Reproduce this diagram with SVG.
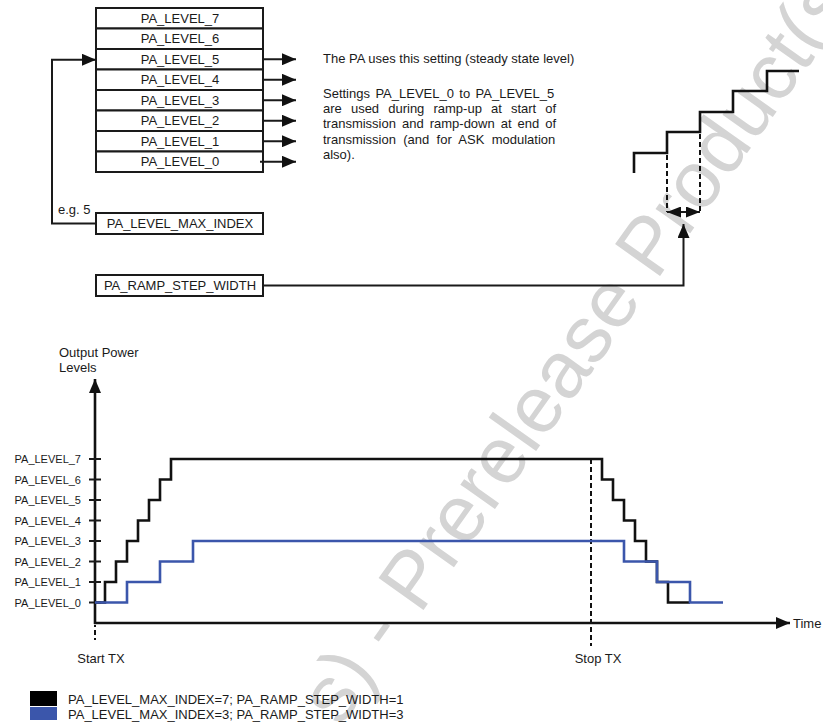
<svg xmlns="http://www.w3.org/2000/svg" width="823" height="726" viewBox="0 0 823 726">
<style>
  text { font-family: "Liberation Sans", Arial, sans-serif; fill: #1a1a1a; }
  .lbl { font-size: 13px; }
  .ax { font-size: 11px; text-anchor: end; }
  .mid { text-anchor: middle; }
  .box { fill: #ffffff; stroke: #1a1a1a; stroke-width: 2; }
  .ln { fill: none; stroke: #1a1a1a; stroke-width: 2; }
  .thick { fill: none; stroke: #111111; stroke-width: 2.6; }
  .dash { fill: none; stroke: #111111; stroke-width: 2; stroke-dasharray: 5 3; }
  .blue { fill: none; stroke: #3b56ab; stroke-width: 2.6; }
  .wm { font-size: 80px; fill: #d4d4d4; }
</style>
<defs>
  <marker id="ah" markerUnits="userSpaceOnUse" markerWidth="14" markerHeight="12" refX="14" refY="6" orient="auto">
    <path d="M0,0 L14,6 L0,12 z" fill="#111111"/>
  </marker>
  <marker id="ahs" markerUnits="userSpaceOnUse" markerWidth="14" markerHeight="11" refX="14" refY="5.5" orient="auto-start-reverse">
    <path d="M0,0 L14,5.5 L0,11 z" fill="#111111"/>
  </marker>
</defs>
<rect width="823" height="726" fill="#ffffff"/>

<g id="watermark">
  <text class="wm" transform="translate(420,615) rotate(-54.7)" x="-138" y="0">s) - Prerelease Product(s)</text>
</g>

<g id="pa-level-table">
  <g id="pa_level_7"><rect class="box" x="96" y="8" width="167" height="20.5"/><text class="lbl mid" x="180" y="22.8">PA_LEVEL_7</text></g>
  <g id="pa_level_6"><rect class="box" x="96" y="28.5" width="167" height="20.5"/><text class="lbl mid" x="180" y="43.3">PA_LEVEL_6</text></g>
  <g id="pa_level_5"><rect class="box" x="96" y="49" width="167" height="20.5"/><text class="lbl mid" x="180" y="63.8">PA_LEVEL_5</text></g>
  <g id="pa_level_4"><rect class="box" x="96" y="69.5" width="167" height="20.5"/><text class="lbl mid" x="180" y="84.3">PA_LEVEL_4</text></g>
  <g id="pa_level_3"><rect class="box" x="96" y="90" width="167" height="20.5"/><text class="lbl mid" x="180" y="104.8">PA_LEVEL_3</text></g>
  <g id="pa_level_2"><rect class="box" x="96" y="110.5" width="167" height="20.5"/><text class="lbl mid" x="180" y="125.3">PA_LEVEL_2</text></g>
  <g id="pa_level_1"><rect class="box" x="96" y="131" width="167" height="20.5"/><text class="lbl mid" x="180" y="145.8">PA_LEVEL_1</text></g>
  <g id="pa_level_0"><rect class="box" x="96" y="151.5" width="167" height="20.5"/><text class="lbl mid" x="180" y="166.3">PA_LEVEL_0</text></g>
</g>

<g id="pa_level_max_index">
  <rect class="box" x="96" y="213" width="167" height="21"/>
  <text class="lbl mid" x="180" y="228.3">PA_LEVEL_MAX_INDEX</text>
</g>

<g id="pa_ramp_step_width">
  <rect class="box" x="96" y="275" width="167" height="21"/>
  <text class="lbl mid" x="180" y="290.3">PA_RAMP_STEP_WIDTH</text>
</g>

<g id="notes">
  <text class="lbl" x="323" y="63">The PA uses this setting (steady state level)</text>
  <text class="lbl" x="323" y="98" word-spacing="1.8">Settings PA_LEVEL_0 to PA_LEVEL_5</text>
  <text class="lbl" x="323" y="113.2" word-spacing="5.5">are used during ramp-up at start of</text>
  <text class="lbl" x="323" y="128.4" word-spacing="2.4">transmission and ramp-down at end of</text>
  <text class="lbl" x="323" y="143.6" word-spacing="3.7">transmission (and for ASK modulation</text>
  <text class="lbl" x="323" y="158.8">also).</text>
  <text class="lbl" x="58" y="214">e.g. 5</text>
</g>

<g id="ramp-detail">
  <path class="thick" d="M634,173 V153 H667 V132 H700 V112 H733 V91 H767 V71 H799"/>
  <line class="dash" x1="667" y1="155" x2="667" y2="212"/>
  <line class="dash" x1="700" y1="134" x2="700" y2="212"/>
</g>

<g id="connectors">
  <line class="ln" x1="263" y1="59.25" x2="296" y2="59.25" marker-end="url(#ah)"/>
  <line class="ln" x1="263" y1="79.75" x2="296" y2="79.75" marker-end="url(#ah)"/>
  <line class="ln" x1="263" y1="100.25" x2="296" y2="100.25" marker-end="url(#ah)"/>
  <line class="ln" x1="263" y1="120.75" x2="296" y2="120.75" marker-end="url(#ah)"/>
  <line class="ln" x1="263" y1="141.25" x2="296" y2="141.25" marker-end="url(#ah)"/>
  <line class="ln" x1="260" y1="161.75" x2="296" y2="161.75" marker-end="url(#ah)"/>
  <path class="ln" d="M96,223.5 H52 V59.75 H96" marker-end="url(#ah)"/>
  <path class="ln" d="M263,285.5 H683.5 V224" marker-end="url(#ah)"/>
  <line class="ln" x1="667" y1="212" x2="700" y2="212" stroke-width="2.4" marker-start="url(#ahs)" marker-end="url(#ahs)"/>
</g>

<g id="chart">
  <g id="axes">
    <line class="thick" x1="95" y1="624" x2="95" y2="379" marker-end="url(#ah)"/>
    <line class="thick" x1="94" y1="623" x2="790" y2="623" marker-end="url(#ah)"/>
    <path class="ln" d="M89,459 H101 M89,479.5 H101 M89,500 H101 M89,520.5 H101 M89,541 H101 M89,561.5 H101 M89,582 H101 M89,602.5 H101"/>
    <line class="dash" x1="95" y1="625" x2="95" y2="640" stroke-dasharray="5 5" stroke-dashoffset="-5"/>
    <line class="dash" x1="591" y1="459" x2="591" y2="646"/>
  </g>
  <g id="axis-labels">
    <text class="lbl" x="59" y="357">Output Power</text>
    <text class="lbl" x="59" y="372">Levels</text>
    <text class="ax" x="81" y="463">PA_LEVEL_7</text>
    <text class="ax" x="81" y="483.5">PA_LEVEL_6</text>
    <text class="ax" x="81" y="504">PA_LEVEL_5</text>
    <text class="ax" x="81" y="524.5">PA_LEVEL_4</text>
    <text class="ax" x="81" y="545">PA_LEVEL_3</text>
    <text class="ax" x="81" y="565.5">PA_LEVEL_2</text>
    <text class="ax" x="81" y="586">PA_LEVEL_1</text>
    <text class="ax" x="81" y="606.5">PA_LEVEL_0</text>
    <text class="lbl" x="793" y="628">Time</text>
    <text class="lbl mid" x="101" y="663">Start TX</text>
    <text class="lbl mid" x="598" y="663">Stop TX</text>
  </g>
  <g id="curve-black">
    <path class="thick" d="M95,602.5 H105 V582 H116 V561.5 H127 V541 H138 V520.5 H149 V500 H160 V479.5 H171 V459 H602 V479.5 H613 V500 H624 V520.5 H635 V541 H646 V561.5 H657 V582 H668 V602.5 H690"/>
  </g>
  <g id="curve-blue">
    <path class="blue" d="M95,602.5 H127 V582 H160 V561.5 H193 V541 H624 V561.5 H657 V582 H690 V602.5 H723"/>
  </g>
</g>

<g id="legend">
  <rect x="30" y="691" width="27" height="15" fill="#000000"/>
  <rect x="30" y="707" width="27" height="13" fill="#3b56ab"/>
  <text class="lbl" x="68" y="704">PA_LEVEL_MAX_INDEX=7; PA_RAMP_STEP_WIDTH=1</text>
  <text class="lbl" x="68" y="719">PA_LEVEL_MAX_INDEX=3; PA_RAMP_STEP_WIDTH=3</text>
</g>
</svg>
